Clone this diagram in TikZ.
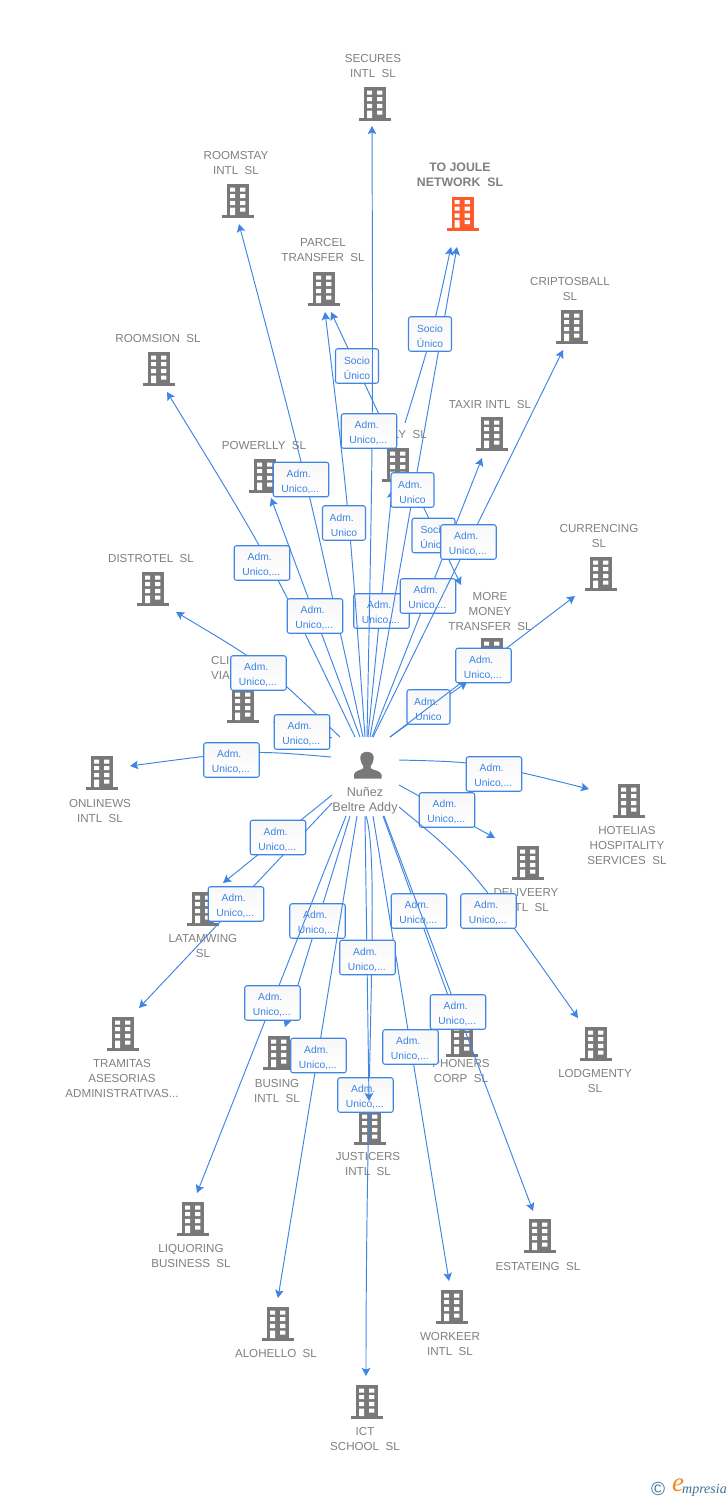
\documentclass[tikz,border=0pt]{standalone}
\usepackage{fontspec}
\setmainfont{Liberation Sans}
\newfontfamily\serifit{Liberation Serif}
\usetikzlibrary{arrows.meta}
\definecolor{bluel}{HTML}{3F85E5}
\definecolor{bluet}{HTML}{3B82E4}
\definecolor{bgray}{HTML}{787878}
\definecolor{tgray}{HTML}{808080}
\definecolor{orangeb}{HTML}{FF5A2B}
\definecolor{logob}{HTML}{3C7590}
\definecolor{logoo}{HTML}{F28A1E}
\tikzset{
  bnode/.style={inner sep=0pt,minimum width=32pt,minimum height=34pt},
  cname/.style={text=tgray,font=\fontsize{11.6}{15}\selectfont,align=center,inner sep=0pt},
  cnameb/.style={cname,font=\fontsize{12.3}{15}\selectfont\bfseries},
  conn/.style={draw=bluel,line width=0.95pt,-{Stealth[length=8pt,width=8.5pt,inset=1.5pt]}},
  lbox/.style={draw=bluel,line width=1.05pt,rounded corners=2.2pt,
    inner sep=0pt,text=bluet,font=\fontsize{10.3}{15}\selectfont,align=center,minimum height=34.5pt},
  admbox/.style={lbox,top color=black!3,bottom color=white,minimum width=55.5pt},
  shortbox/.style={lbox,top color=black!3,bottom color=white,minimum width=43pt}
}
\newcommand{\bldg}[4]{%
  \node[bnode] (#1) at (#2,#3) {};
  \begin{scope}[shift={(#2,#3)}]
    \fill[#4] (-11,-17) rectangle (11,15);
    \fill[#4] (-16,14) rectangle (16,17);
    \fill[white] (-8,-13.5) rectangle (-2.8,-9.5) (2.2,-13.5) rectangle (7.4,-9.5)
      (-8,-7) rectangle (-2.8,-3) (2.2,-7) rectangle (7.4,-3)
      (-8,-0.2) rectangle (-2.8,4) (2.2,-0.2) rectangle (7.4,4)
      (-8,6.5) rectangle (-2.8,14) (2.2,6.5) rectangle (7.4,10.7);
  \end{scope}}
\newcommand{\adm}[3]{\node[admbox] (#1) at (#2,#3) {\rule{0pt}{11.5pt}Adm.\hspace*{4.6pt}\\Unico,...\hspace*{1.4pt}};}
\newcommand{\admu}[3]{\node[shortbox] (#1) at (#2,#3) {\rule{0pt}{11.5pt}Adm.\hspace*{4.6pt}\\Unico};}
\newcommand{\socio}[3]{\node[shortbox] (#1) at (#2,#3) {\rule{0pt}{11.5pt}Socio\\Único};}
\begin{document}
\begin{tikzpicture}[x=1pt,y=-1pt]
\useasboundingbox (0,0) rectangle (728,1500);
\fill[white] (0,0) rectangle (728,1500);
% company buildings
\bldg{sec}{375}{104}{bgray}
\bldg{room}{238}{201}{bgray}
\bldg{joule}{462.5}{213.5}{orangeb}
\bldg{parcel}{324}{289}{bgray}
\bldg{cripto}{572}{327}{bgray}
\bldg{roomsion}{159}{369}{bgray}
\bldg{taxir}{492}{434}{bgray}
\bldg{power}{265}{476}{bgray}
\bldg{ly}{398}{465}{bgray}
\bldg{curr}{601}{574}{bgray}
\bldg{dist}{153}{589}{bgray}
\bldg{more}{492}{655}{bgray}
\bldg{clic}{243}{706}{bgray}
\bldg{onl}{102}{773}{bgray}
\bldg{hot}{629}{801}{bgray}
\bldg{deli}{528}{863}{bgray}
\bldg{latam}{203}{909}{bgray}
\bldg{tram}{123}{1034}{bgray}
\bldg{lodg}{596}{1044}{bgray}
\bldg{bus}{279}{1053}{bgray}
\bldg{pho}{462}{1040}{bgray}
\bldg{just}{370}{1128}{bgray}
\bldg{liq}{193}{1219}{bgray}
\bldg{est}{540}{1236}{bgray}
\bldg{alo}{278}{1324}{bgray}
\bldg{work}{452}{1307}{bgray}
\bldg{ict}{367}{1402}{bgray}
% company names
\node[cname] (nsec) at (373,66) {SECURES\\INTL~~SL};
\node[cname] (nroom) at (236,163) {ROOMSTAY\\INTL~~SL};
\node[cnameb] (njoule) at (460,175) {TO JOULE\\NETWORK~~SL};
\node[cname] (nparcel) at (323,250) {PARCEL\\TRANSFER~~SL};
\node[cname] (ncripto) at (570,289) {CRIPTOSBALL\\SL};
\node[cname] (nroomsion) at (158,338.5) {ROOMSION~~SL};
\node[cname] (ntaxir) at (490,404.5) {TAXIR INTL~~SL};
\node[cname] (npower) at (264,445.5) {POWERLLY~~SL};
\node[cname,anchor=east] (nly) at (427,434.5) {LY~~SL};
\node[cname] (ncurr) at (599,536) {CURRENCING\\SL};
\node[cname] (ndist) at (151,558.5) {DISTROTEL~~SL};
\node[cname] (nmore) at (490,611.5) {MORE\\MONEY\\TRANSFER~~SL};
\node[cname,anchor=west,align=left] (nclic) at (211,668) {CLIC\\VIA};
\node[cname] (nonl) at (100,811) {ONLINEWS\\INTL~~SL};
\node[cname] (nhot) at (627,845.5) {HOTELIAS\\HOSPITALITY\\SERVICES~~SL};
\node[cname] (ndeli) at (526,900) {DELIVEERY\\INTL~~SL};
\node[cname] (nlatam) at (203,946) {LATAMWING\\SL};
\node[cname] (ntram) at (122,1078.5) {TRAMITAS\\ASESORIAS\\ADMINISTRATIVAS...};
\node[cname] (nlodg) at (595,1081) {LODGMENTY\\SL};
\node[cname] (nbus) at (277,1091) {BUSING\\INTL~~SL};
\node[cname] (npho) at (461,1071) {PHONERS\\CORP~~SL};
\node[cname] (njust) at (368,1164) {JUSTICERS\\INTL~~SL};
\node[cname] (nliq) at (191,1256) {LIQUORING\\BUSINESS~~SL};
\node[cname] (nest) at (538,1266.5) {ESTATEING~~SL};
\node[cname] (nalo) at (276,1353.5) {ALOHELLO~~SL};
\node[cname] (nwork) at (450,1344) {WORKEER\\INTL~~SL};
\node[cname] (nict) at (365,1439) {ICT\\SCHOOL~~SL};
% person
\node[inner sep=0pt,minimum width=30pt,minimum height=30pt] (hub) at (367,765) {};
\fill[bgray] (367,751.8) .. controls (362,751.8) and (360,755) .. (360.3,759)
  .. controls (360.6,762) and (362.5,765) .. (363.5,766.5) -- (363,768.5)
  .. controls (360,770.5) and (355,770.5) .. (354,774.5) -- (354,778.5) -- (381.5,778.5) -- (381.5,774.5)
  .. controls (380,770.5) and (374,770.5) .. (371,768.5) -- (370.5,766.5)
  .. controls (371.5,765) and (373.4,762) .. (373.7,759)
  .. controls (374,755) and (372,751.8) .. (367,751.8) -- cycle;
\node[cname,font=\fontsize{12.6}{15}\selectfont] (nhub) at (365,801) {Nuñez\\Beltre Addy};
% connectors and their labels, in stacking order
\draw[conn] ([shift={(-14,-40)}]ly.center) -- ([shift={(7,23)}]parcel.center);
\socio{lbsp}{357}{366}
\draw[conn] ([shift={(22,35)}]ly.center) -- ([shift={(-31,-70)}]more.center);
\socio{lbsm}{433.5}{535.5}
\draw[conn] ([shift={(1,-28)}]hub.center) -- ([shift={(-6,25)}]ly.center);
\adm{lbly}{381.5}{611}
\draw[conn] ([shift={(0,-28)}]hub.center) .. controls (373,430) .. ([shift={(-3,22)}]sec.center);
\adm{lbsec}{369}{431}
\draw[conn] ([shift={(-4,-28)}]hub.center) .. controls (307,480) .. ([shift={(1,23)}]room.center);
\adm{lbroom}{301}{479.5}
\draw[conn] ([shift={(-2,-28)}]hub.center) .. controls (349,510) .. ([shift={(1,23)}]parcel.center);
\admu{lbparcel}{344}{523}
\draw[conn] ([shift={(3,-28)}]hub.center) -- ([shift={(-5.5,33.5)}]joule.center);
\admu{lbjoule}{412.5}{490}
\draw[conn] ([shift={(7,-42)}]ly.center) .. controls (432,335) .. ([shift={(-11.5,33.5)}]joule.center);
\socio{lbsj}{430}{334}
\draw[conn] ([shift={(-12,-28)}]hub.center) .. controls (270,560) .. ([shift={(8,23)}]roomsion.center);
\adm{lbroomsion}{262}{563}
\draw[conn] ([shift={(-7,-28)}]hub.center) -- ([shift={(6,22)}]power.center);
\adm{lbpower}{315}{616}
\draw[conn] ([shift={(5,-28)}]hub.center) -- ([shift={(-10,24)}]taxir.center);
\adm{lbtaxir}{428}{596}
\draw[conn] ([shift={(6,-28)}]hub.center) -- ([shift={(-9,23)}]cripto.center);
\adm{lbcripto}{468.5}{542}
\draw[conn] ([shift={(-27,-28)}]hub.center) .. controls (265,665) .. ([shift={(23,23)}]dist.center);
\adm{lbdist}{258.5}{673}
\draw[conn] ([shift={(-35,-27)}]hub.center) -- ([shift={(30,16)}]clic.center);
\adm{lbclic}{302}{732}
\draw[conn] ([shift={(-36,-8)}]hub.center) .. controls (250,750) .. ([shift={(28,-7)}]onl.center);
\adm{lbonl}{231.5}{760}
\draw[conn] ([shift={(23,-28)}]hub.center) -- ([shift={(-25,27)}]more.center);
\admu{lbmore}{428.5}{707}
\draw[conn] ([shift={(23,-28)}]hub.center) -- ([shift={(-26,22)}]curr.center);
\adm{lbcurr}{483.5}{665.5}
\draw[conn] ([shift={(32,-5)}]hub.center) .. controls (480,762) .. ([shift={(-40,-12)}]hot.center);
\adm{lbhot}{494}{774}
\draw[conn] ([shift={(32,20)}]hub.center) -- ([shift={(-33,-25)}]deli.center);
\adm{lbdeli}{447}{810}
\draw[conn] ([shift={(-35,38)}]hub.center) -- ([shift={(16,-26)}]tram.center);
\adm{lbtram}{236}{904}
\draw[conn] ([shift={(-35,30)}]hub.center) -- ([shift={(20,-26)}]latam.center);
\adm{lblatam}{278}{837.5}
\draw[conn] ([shift={(32,42)}]hub.center) .. controls (470,865) .. ([shift={(-18,-26)}]lodg.center);
\adm{lblodg}{488.5}{911}
\draw[conn] ([shift={(-17,51)}]hub.center) -- ([shift={(6,-26)}]bus.center);
\adm{lbbus}{317.5}{921}
\draw[conn] ([shift={(-21,51)}]hub.center) -- ([shift={(4,-26)}]liq.center);
\adm{lbliq}{272.5}{1003}
\draw[conn] ([shift={(-10,51)}]hub.center) -- ([shift={(0,-26)}]alo.center);
\adm{lbalo}{318.5}{1055.5}
\draw[conn] ([shift={(16,51)}]hub.center) -- ([shift={(-8,-28)}]pho.center);
\adm{lbpho}{419}{911}
\draw[conn] ([shift={(17,51)}]hub.center) -- ([shift={(-7,-25)}]est.center);
\adm{lbest}{458}{1012}
\draw[conn] ([shift={(6,51)}]hub.center) -- ([shift={(-3,-26)}]work.center);
\adm{lbwork}{410.5}{1047}
\draw[conn] ([shift={(-1,51)}]hub.center) .. controls (380,860) and (366,1050) .. ([shift={(-1,-26)}]ict.center);
\adm{lbict}{365.5}{1095}
\draw[conn] ([shift={(-2,51)}]hub.center) -- ([shift={(-1,-27)}]just.center);
\adm{lbjust}{367.5}{957.5}
% logo
\node[inner sep=0pt,text=logob,font=\fontsize{19}{19}\selectfont] (logoc) at (658,1489) {©};
\node[inner sep=0pt,text=logoo,font=\fontsize{27}{27}\selectfont\serifit\itshape] (logoe) at (678,1485) {e};
\node[inner sep=0pt,anchor=west,text=logob,font=\fontsize{14}{14}\selectfont\serifit\itshape] (logot) at (682,1490) {mpresia};
\end{tikzpicture}
\end{document}
